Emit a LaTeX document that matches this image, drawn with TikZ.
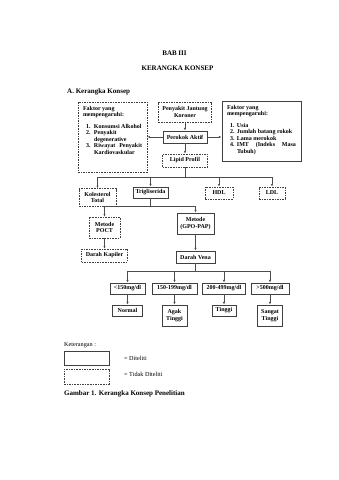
\documentclass[tikz,border=0pt]{standalone}
\usepackage{fontspec}
\setmainfont{Liberation Serif}
\usetikzlibrary{arrows.meta}

\begin{document}
\begin{tikzpicture}[x=1pt, y=-1pt,
            font=\fontsize{6}{6.5}\selectfont\bfseries,
            solidbox/.style={draw=black!75, line width=.9pt, align=center, inner sep=1pt},
            dashbox/.style={draw=black!75, line width=.7pt, dash pattern=on 1.6pt off 1pt,
                align=center, inner sep=1pt},
            heading/.style={font=\fontsize{7}{8}\selectfont\bfseries},
            plain/.style={font=\fontsize{6.2}{7}\selectfont},
            arrow/.style={-{Latex[length=2.6pt, width=2.2pt]}, line width=.5pt, draw=black!70},
            bus/.style={line width=.5pt, draw=black!70},
        ]
            \useasboundingbox (0,0) rectangle (339,480);
            % judul
            \node[heading] (bab) at (174.5,53) {BAB III};
            \node[heading] (judul) at (177.5,68) {KERANGKA KONSEP};
            \node[heading, anchor=base west, inner sep=0] (sub) at (67,93) {A. Kerangka Konsep};
            % faktor
            \node[dashbox, inner xsep=5pt, inner ysep=4pt, align=left] (faktorA) at (112.5,137)
                {\parbox[c][62pt][t]{59pt}{\hyphenpenalty=10000 Faktor yang\\ mempengaruhi:\\[5pt]
                \begin{tabular}[t]{@{\hspace{3pt}}p{8pt}@{}p{48pt}@{}}
                1. & Konsumsi Alkohol\\
                2. & Penyakit\newline degenerative\\
                3. & Riwayat Penyakit Kardiovaskular
                \end{tabular}}};
            \node[solidbox, inner xsep=5pt, inner ysep=4pt, align=left] (faktorB) at (261.5,131)
                {\parbox[c][52pt][t]{69pt}{\hyphenpenalty=10000 Faktor yang\\ mempengaruhi:\\[5pt]
                \begin{tabular}[t]{@{\hspace{3pt}}p{7pt}@{}p{59pt}@{}}
                1. & Usia\\
                2. & Jumlah batang rokok\\
                3. & Lama merokok\\
                4. & IMT (Indeks Masa Tubuh)
                \end{tabular}}};
            \node[dashbox, minimum width=53pt, minimum height=20pt] (pjk) at (185,112) {Penyakit Jantung\\Koroner};
            \node[solidbox, minimum width=44pt, minimum height=12pt] (perokok) at (185,137) {Perokok Aktif};
            \node[dashbox, minimum width=45pt, minimum height=13pt] (lipid) at (185,160.5) {Lipid Profil};
            \draw[arrow] (pjk) -- (perokok);
            \draw[arrow] (perokok) -- (lipid);
            \draw[arrow] (perokok.west) -- (faktorA.east |- perokok.west);
            \draw[arrow] (perokok.east) -- (faktorB.west |- perokok.east);
            % profil lipid
            \node[dashbox, minimum width=37pt, minimum height=18pt] (kolesterol) at (97.5,197.5) {Kolesterol\\Total};
            \node[solidbox, minimum width=35pt, minimum height=11pt] (trigliserida) at (150.5,192.5) {Trigliserida};
            \node[dashbox, minimum width=28pt, minimum height=12pt] (hdl) at (219,193) {HDL};
            \node[dashbox, minimum width=26pt, minimum height=12pt] (ldl) at (272,193) {LDL};
            \coordinate (lipidL) at (97.5,177);
            \coordinate (lipidR) at (272,177);
            \draw[bus] (lipid) -- (lipid |- lipidL);
            \draw[bus] (lipidL) -- (lipidR);
            \draw[arrow] (lipidL) -- (kolesterol);
            \draw[arrow] (trigliserida |- lipidL) -- (trigliserida);
            \draw[arrow] (hdl |- lipidL) -- (hdl);
            \draw[arrow] (lipidR) -- (ldl);
            % metode
            \node[dashbox, minimum width=31pt, minimum height=21pt] (poct) at (104.5,227.5) {Metode\\POCT};
            \node[solidbox, minimum width=37pt, minimum height=21pt] (gpo) at (195.5,223.5) {Metode\\(GPO-PAP)};
            \coordinate (trigL) at (104.5,206);
            \coordinate (trigR) at (195.5,206);
            \draw[bus] (trigliserida) -- (trigliserida |- trigL);
            \draw[bus] (trigL) -- (trigR);
            \draw[arrow] (trigL) -- (poct);
            \draw[arrow] (trigR) -- (gpo);
            \node[dashbox, minimum width=46pt, minimum height=13pt] (kapiler) at (104.5,255.5) {Darah Kapiler};
            \node[solidbox, minimum width=39pt, minimum height=12pt] (vena) at (195.5,257) {Darah Vena};
            \draw[arrow] (poct) -- (kapiler);
            \draw[arrow] (gpo) -- (vena);
            % kadar
            \node[solidbox, minimum width=35pt, minimum height=11pt] (k150) at (127.5,288.5) {<150mg/dl};
            \node[solidbox, minimum width=45pt, minimum height=11pt] (k199) at (174.5,288.5) {150-199mg/dl};
            \node[solidbox, minimum width=43pt, minimum height=11pt] (k499) at (224,288.5) {200-499mg/dl};
            \node[solidbox, minimum width=38pt, minimum height=11pt] (k500) at (270,288.5) {>500mg/dl};
            \coordinate (venaL) at (127.5,271);
            \coordinate (venaR) at (270,271);
            \draw[bus] (vena) -- (vena |- venaL);
            \draw[bus] (venaL) -- (venaR);
            \draw[arrow] (venaL) -- (k150);
            \draw[arrow] (k199 |- venaL) -- (k199);
            \draw[arrow] (k499 |- venaL) -- (k499);
            \draw[arrow] (venaR) -- (k500);
            \node[solidbox, minimum width=30pt, minimum height=11pt] (normal) at (127.5,310.5) {Normal};
            \node[solidbox, minimum width=25pt, minimum height=21pt] (agak) at (174.5,315.5) {Agak\\Tinggi};
            \node[solidbox, minimum width=24pt, minimum height=11pt] (tinggi) at (224,310.5) {Tinggi};
            \node[solidbox, minimum width=25pt, minimum height=21pt] (sangat) at (270,315.5) {Sangat\\Tinggi};
            \draw[arrow] (k150) -- (normal);
            \draw[arrow] (k199) -- (agak);
            \draw[arrow] (k499) -- (tinggi);
            \draw[arrow] (k500) -- (sangat);
            % keterangan
            \node[plain, anchor=base west, inner sep=0] (ket) at (64,346) {Keterangan :};
            \node[solidbox, minimum width=45pt, minimum height=14pt] (legA) at (86.5,358) {};
            \node[dashbox, minimum width=45pt, minimum height=15pt] (legB) at (86.5,376.5) {};
            \node[plain, anchor=west, inner sep=0] (legAtext) at (124,358) {= Diteliti};
            \node[plain, anchor=west, inner sep=0] (legBtext) at (124,374) {= Tidak Diteliti};
            \node[heading, anchor=base west, inner sep=0] (gambar) at (64,395) {Gambar 1. Kerangka Konsep Penelitian};
        \end{tikzpicture}
\end{document}
